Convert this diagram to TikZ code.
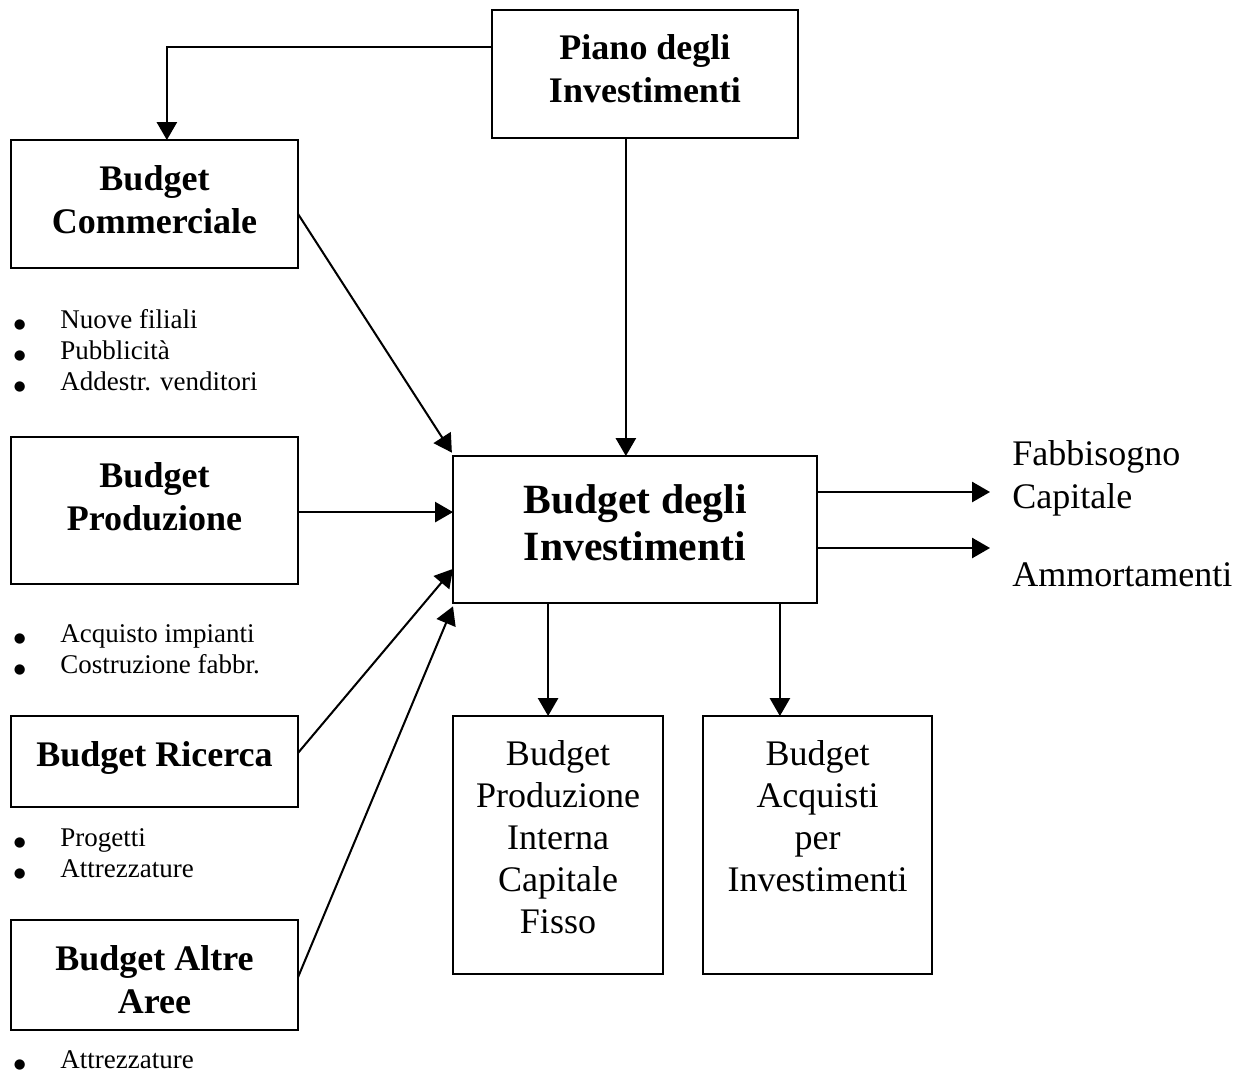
\documentclass[tikz,border=0pt]{standalone}
\usepackage{fontspec}
\setmainfont{Liberation Serif}
\newfontfamily\dejavu{DejaVu Sans}
\usetikzlibrary{arrows.meta}
\newcommand{\blt}{\makebox[21.3pt][l]{\hspace{0.6pt}{\dejavu\fontsize{6}{0}\selectfont ●}}}

\begin{document}
\begin{tikzpicture}[x=0.4444pt, y=-0.4444pt,
    box/.style={draw, line width=0.9pt, inner sep=0pt, outer sep=0pt},
    btext/.style={font=\fontsize{16}{19.1}\selectfont\bfseries, align=center, inner sep=0pt},
    bigtext/.style={font=\fontsize{18.5}{21.3}\selectfont\bfseries, align=center, inner sep=0pt},
    ptext/.style={font=\fontsize{16}{18.7}\selectfont, align=center, inner sep=0pt},
    lista/.style={font=\fontsize{12}{13.8}\selectfont, align=left, anchor=north west, inner sep=0pt},
    arr/.style={line width=0.9pt, -{Triangle[length=8pt, width=9pt]}}]
    \useasboundingbox (0,0) rectangle (1241,1073);

    % Piano
    \node[box, minimum width=306*0.4444pt, minimum height=128*0.4444pt] (piano) at (645,74) {};
    \node[btext, below=10.6pt] at (piano.north) {Piano degli\\Investimenti};

    % Budget di area (sinistra)
    \node[box, minimum width=287*0.4444pt, minimum height=128*0.4444pt] (comm) at (154.5,204) {};
    \node[btext, below=11pt] at (comm.north) {Budget\\Commerciale};
    \node[lista] (lcomm) at (12,308.6) {\blt Nuove filiali\\ \blt Pubblicità\\ \blt Addestr. venditori};

    \node[box, minimum width=287*0.4444pt, minimum height=147*0.4444pt] (prod) at (154.5,510.5) {};
    \node[btext, below=11pt] at (prod.north) {Budget\\Produzione};
    \node[lista] (lprod) at (12,624.6) {\blt Acquisto impianti\\ \blt Costruzione fabbr.};

    \node[box, minimum width=287*0.4444pt, minimum height=91*0.4444pt] (ric) at (154.5,761.5) {};
    \node[btext, below=11pt] at (ric.north) {Budget Ricerca};
    \node[lista] (lric) at (12,828.6) {\blt Progetti\\ \blt Attrezzature};

    \node[box, minimum width=287*0.4444pt, minimum height=110*0.4444pt] (altre) at (154.5,975) {};
    \node[btext, below=11pt] at (altre.north) {Budget Altre\\Aree};
    \node[lista] (laltre) at (12,1050.6) {\blt Attrezzature};

    % Budget degli Investimenti
    \node[box, minimum width=364*0.4444pt, minimum height=147*0.4444pt] (main) at (635,529.5) {};
    \node[bigtext, below=12.3pt] at (main.north) {Budget degli\\Investimenti};

    % Budget derivati
    \node[box, minimum width=210*0.4444pt, minimum height=258*0.4444pt] (pic) at (558,845) {};
    \node[ptext, below=10.5pt] at (pic.north) {Budget\\Produzione\\Interna\\Capitale\\Fisso};
    \node[box, minimum width=229*0.4444pt, minimum height=258*0.4444pt] (acq) at (817.5,845) {};
    \node[ptext, below=10.5pt] at (acq.north) {Budget\\Acquisti\\per\\Investimenti};

    % Uscite
    \node[ptext, align=left, anchor=north west, font=\fontsize{16}{19.1}\selectfont] (fabb) at (1012,440) {Fabbisogno\\Capitale};
    \node[ptext, anchor=north west] (amm) at (1012,562) {Ammortamenti};
    \coordinate (o1) at (990,492);
    \coordinate (o2) at (990,548);

    % Frecce
    \draw[arr] ([yshift=12pt]piano.west) -| ([xshift=5.5pt]comm.north);
    \draw[arr] ([xshift=-8.5pt]piano.south) -- ([xshift=-8.5pt]piano.south |- main.north);
    \draw[arr] ([yshift=-4.4pt]comm.east) -- ([shift={(-0.5pt,1.5pt)}]main.north west);
    \draw[arr] ([yshift=-0.7pt]prod.east) -- ([yshift=-0.7pt]prod.east -| main.west);
    \draw[arr] ([yshift=3.8pt]ric.east) -- ([yshift=-17.5pt]main.west);
    \draw[arr] ([yshift=-1pt]altre.east) -- ([yshift=-1.5pt]main.south west);
    \draw[arr] (main.east |- o1) -- (o1);
    \draw[arr] (main.east |- o2) -- (o2);
    \draw[arr] ([xshift=-4.4pt]pic.north |- main.south) -- ([xshift=-4.4pt]pic.north);
    \draw[arr] ([xshift=-16.7pt]acq.north |- main.south) -- ([xshift=-16.7pt]acq.north);
\end{tikzpicture}
\end{document}
